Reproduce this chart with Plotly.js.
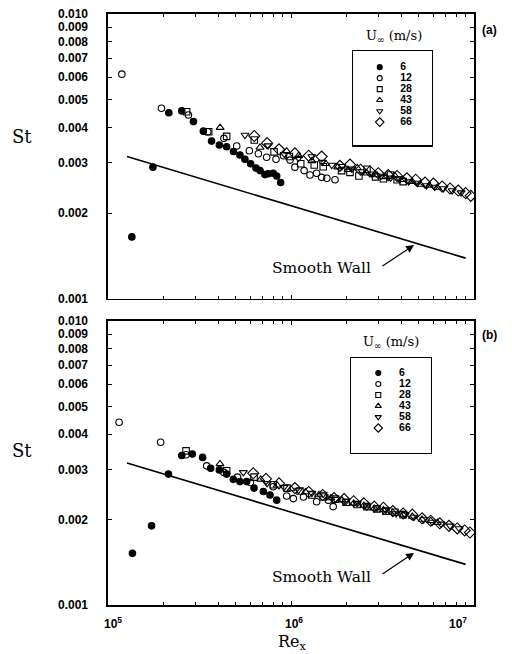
<!DOCTYPE html>
<html><head><meta charset="utf-8">
<script src="https://cdn.plot.ly/plotly-3.0.1.min.js"></script>
<style>html,body{margin:0;padding:0;background:#fff;} #chart{width:512px;height:654px;}</style>
</head><body><div id="chart"></div>
<script>
// ---------- data ----------
const speeds = ['6', '12', '28', '43', '58', '66'];
const xTickVals = [1e5, 1e6, 1e7];
const xTickText = ['10<sup>5</sup>', '10<sup>6</sup>', '10<sup>7</sup>'];
const yTickVals = [0.001, 0.002, 0.003, 0.004, 0.005, 0.006, 0.007, 0.008, 0.009, 0.010];
const yTickText = ['0.001', '0.002', '0.003', '0.004', '0.005', '0.006', '0.007', '0.008', '0.009', '0.010'];
const smoothRe = [1.27e5, 3e5, 1e6, 3e6, 9e6];
const smoothSt = [0.00316, 0.00268, 0.00212, 0.00172, 0.00139];

// panel (a)
const aRe6 = [1.35e5, 1.76e5, 2.15e5, 2.53e5, 2.93e5, 3.32e5, 3.68e5, 4.06e5, 4.45e5, 4.85e5, 5.26e5, 5.6e5, 6.02e5, 6.44e5, 6.77e5, 7.2e5, 7.5e5, 8.0e5, 8.35e5, 8.78e5];
const aSt6 = [0.00165, 0.0029, 0.0045, 0.00457, 0.00419, 0.00388, 0.00358, 0.00347, 0.00342, 0.00329, 0.0032, 0.00309, 0.00298, 0.00288, 0.00282, 0.00273, 0.00275, 0.00276, 0.0027, 0.00256];
const aRe12 = [1.19e5, 1.96e5, 2.75e5, 3.51e5, 4.30e5, 5.05e5, 5.92e5, 6.63e5, 7.36e5, 8.28e5, 9.1e5, 9.88e5, 1.05e6, 1.18e6, 1.27e6, 1.38e6, 1.47e6, 1.57e6, 1.74e6];
const aSt12 = [0.00615, 0.00467, 0.00442, 0.00386, 0.00366, 0.00344, 0.00331, 0.00323, 0.00314, 0.00309, 0.00318, 0.00307, 0.0029, 0.00282, 0.00272, 0.00276, 0.00267, 0.00265, 0.00262];
const aRe28 = [2.69e5, 3.55e5, 4.45e5, 6.3e5, 8.08e5, 9.8e5, 1.13e6, 1.34e6, 1.50e6, 1.89e6, 2.1e6, 2.35e6, 2.6e6, 2.9e6, 3.2e6, 3.5e6, 3.8e6, 4.1e6];
const aSt28 = [0.00454, 0.00386, 0.00372, 0.00361, 0.00328, 0.00316, 0.00298, 0.00295, 0.00291, 0.00282, 0.00278, 0.0027, 0.00285, 0.00268, 0.00264, 0.00272, 0.00262, 0.00258];
const aRe43 = [4.1e5, 6.77e5, 9.46e5, 1.1e6, 1.3e6, 1.55e6, 1.8e6, 2.05e6, 2.3e6, 2.6e6, 2.95e6, 3.3e6, 3.7e6, 4.1e6, 4.6e6, 5.1e6, 5.7e6, 6.3e6];
const aSt43 = [0.00399, 0.0034, 0.0033, 0.00318, 0.00305, 0.00298, 0.0029, 0.00284, 0.00288, 0.00276, 0.00272, 0.00268, 0.0027, 0.00262, 0.00258, 0.00252, 0.0025, 0.00246];
const aRe58 = [5.6e5, 7.5e5, 9.2e5, 1.1e6, 1.30e6, 1.48e6, 1.67e6, 1.9e6, 2.15e6, 2.45e6, 2.75e6, 3.1e6, 3.5e6, 3.9e6, 4.4e6, 4.9e6, 5.5e6, 6.1e6, 6.8e6, 7.6e6, 8.5e6];
const aSt58 = [0.00376, 0.00345, 0.00322, 0.00312, 0.00316, 0.00302, 0.00295, 0.00292, 0.00286, 0.0028, 0.00275, 0.0027, 0.00266, 0.00264, 0.00258, 0.00255, 0.0025, 0.00247, 0.00244, 0.0024, 0.00236];
const aRe66 = [6.3e5, 7.4e5, 8.6e5, 1.05e6, 1.25e6, 1.47e6, 1.85e6, 2.1e6, 2.4e6, 2.7e6, 3.0e6, 3.4e6, 3.8e6, 4.3e6, 4.8e6, 5.4e6, 6.0e6, 6.7e6, 7.4e6, 8.2e6, 9.0e6, 9.6e6];
const aSt66 = [0.00373, 0.00352, 0.00335, 0.00324, 0.00318, 0.00316, 0.00293, 0.00296, 0.00284, 0.0028, 0.00276, 0.00272, 0.0027, 0.00265, 0.00262, 0.00256, 0.00254, 0.00248, 0.00244, 0.0024, 0.00235, 0.0023];

// panel (b)
const bRe6 = [1.36e5, 1.73e5, 2.14e5, 2.53e5, 2.89e5, 3.29e5, 3.64e5, 4.06e5, 4.45e5, 4.84e5, 5.26e5, 5.73e5, 6.28e5, 7.06e5, 7.68e5, 8.35e5];
const bSt6 = [0.00152, 0.0019, 0.00289, 0.00336, 0.0034, 0.00331, 0.00303, 0.00299, 0.00289, 0.00277, 0.00272, 0.00272, 0.00258, 0.00251, 0.00244, 0.00234];
const bRe12 = [1.15e5, 1.94e5, 2.67e5, 3.46e5, 4.3e5, 5.1e5, 6.0e5, 8.0e5, 9.47e5, 1.03e6, 1.17e6, 1.38e6, 1.60e6, 1.70e6];
const bSt12 = [0.0044, 0.00374, 0.00338, 0.00309, 0.00293, 0.00282, 0.0027, 0.00261, 0.00242, 0.00237, 0.0024, 0.00231, 0.00234, 0.00222];
const bRe28 = [2.67e5, 4.45e5, 6.28e5, 8.0e5, 9.5e5, 1.12e6, 1.3e6, 1.5e6, 1.75e6, 2.0e6, 2.3e6, 2.6e6, 2.95e6, 3.3e6, 3.7e6, 4.1e6];
const bSt28 = [0.00349, 0.00297, 0.00282, 0.00265, 0.00258, 0.00252, 0.00244, 0.0024, 0.00236, 0.0023, 0.00226, 0.00222, 0.00218, 0.00214, 0.00212, 0.00208];
const bRe43 = [4.09e5, 6.83e5, 8.4e5, 1.0e6, 1.2e6, 1.42e6, 1.65e6, 1.9e6, 2.2e6, 2.5e6, 2.85e6, 3.2e6, 3.6e6, 4.1e6, 4.6e6, 5.2e6, 5.8e6, 6.3e6];
const bSt43 = [0.00314, 0.00277, 0.00264, 0.00256, 0.0025, 0.00244, 0.00238, 0.00234, 0.00228, 0.00224, 0.00219, 0.00216, 0.00212, 0.00208, 0.00205, 0.002, 0.00198, 0.00195];
const bRe58 = [5.49e5, 7.4e5, 9.16e5, 1.1e6, 1.3e6, 1.5e6, 1.75e6, 2.0e6, 2.3e6, 2.6e6, 2.95e6, 3.3e6, 3.75e6, 4.2e6, 4.7e6, 5.3e6, 5.9e6, 6.6e6, 7.4e6, 8.3e6];
const bSt58 = [0.00293, 0.00268, 0.0026, 0.00254, 0.00248, 0.00246, 0.00236, 0.00232, 0.00228, 0.00222, 0.0022, 0.00216, 0.0021, 0.00208, 0.00204, 0.002, 0.00196, 0.00193, 0.0019, 0.00186];
const bRe66 = [6.22e5, 7.3e5, 8.6e5, 1.05e6, 1.25e6, 1.49e6, 1.72e6, 1.95e6, 2.2e6, 2.5e6, 2.85e6, 3.2e6, 3.6e6, 4.1e6, 4.6e6, 5.2e6, 5.8e6, 6.5e6, 7.3e6, 8.1e6, 8.9e6, 9.5e6];
const bSt66 = [0.00291, 0.00278, 0.00268, 0.00258, 0.0025, 0.00244, 0.00238, 0.00236, 0.00232, 0.00228, 0.00222, 0.0022, 0.00214, 0.0021, 0.00208, 0.00202, 0.00198, 0.00194, 0.0019, 0.00186, 0.00183, 0.0018];

// ---------- styling / build ----------
const panelA = [[aRe6, aSt6], [aRe12, aSt12], [aRe28, aSt28], [aRe43, aSt43], [aRe58, aSt58], [aRe66, aSt66]];
const panelB = [[bRe6, bSt6], [bRe12, bSt12], [bRe28, bSt28], [bRe43, bSt43], [bRe58, bSt58], [bRe66, bSt66]];
const symbols = ['circle', 'circle-open', 'square-open', 'triangle-up-open', 'triangle-down-open', 'diamond-open'];
const sizes = [6.5, 6.5, 6.5, 7, 7, 8.5];
const legSizes = [5, 5, 5, 5.5, 5.5, 6.5];

const traces = [];
function addPanel(data, xa, ya) {
  data.forEach((d, i) => {
    traces.push({
      type: 'scatter', mode: 'markers', x: d[0], y: d[1], xaxis: xa, yaxis: ya,
      name: speeds[i] + ' m/s', showlegend: false, hoverinfo: 'skip',
      marker: {symbol: symbols[i], size: sizes[i], color: '#000', line: {color: '#000', width: 1.1}}
    });
  });
  traces.push({
    type: 'scatter', mode: 'lines', x: smoothRe, y: smoothSt, xaxis: xa, yaxis: ya,
    showlegend: false, hoverinfo: 'skip', line: {color: '#000', width: 1.6}
  });
}
addPanel(panelA, 'x', 'y');
addPanel(panelB, 'x2', 'y2');

function addLegend(xa, ya) {
  const idx = speeds.map((s, i) => i);
  speeds.forEach((s, i) => {
    traces.push({
      type: 'scatter', mode: 'markers', x: [0.34], y: [idx[i]], xaxis: xa, yaxis: ya,
      showlegend: false, hoverinfo: 'skip',
      marker: {symbol: symbols[i], size: legSizes[i], color: '#000', line: {color: '#000', width: 1.1}}
    });
  });
  traces.push({
    type: 'scatter', mode: 'text', x: speeds.map(() => 0.6), y: idx, text: speeds,
    textposition: 'middle right', xaxis: xa, yaxis: ya, showlegend: false, hoverinfo: 'skip',
    textfont: {family: 'Liberation Sans', size: 10.5, weight: 700, color: '#000'}
  });
}
addLegend('x3', 'y3');
addLegend('x4', 'y4');

const minorVals = [];
[1e5, 1e6].forEach(d => { for (let k = 2; k <= 9; k++) minorVals.push(k * d); });

const tickFont = {family: 'Liberation Sans', size: 12, weight: 700, color: '#000'};
function xAxis(anchor) {
  return {
    type: 'log', range: [5, 7], anchor: anchor, domain: [0, 1],
    showline: true, linecolor: '#000', linewidth: 1.6, mirror: 'ticks',
    ticks: 'inside', ticklen: 4, tickwidth: 1, tickcolor: '#000',
    tickmode: 'array', tickvals: xTickVals, showticklabels: false,
    showgrid: false, zeroline: false,
    minor: {tickmode: 'array', tickvals: minorVals, ticks: 'inside', ticklen: 3, tickwidth: 1, tickcolor: '#000', showgrid: false}
  };
}
function yAxis(anchor, domain) {
  return {
    type: 'log', range: [-3, -2], anchor: anchor, domain: domain,
    showline: true, linecolor: '#000', linewidth: 1.6, mirror: 'ticks',
    ticks: 'inside', ticklen: 4, tickwidth: 1, tickcolor: '#000',
    tickmode: 'array', tickvals: yTickVals, ticktext: yTickText,
    tickfont: tickFont, ticklabelstandoff: 16,
    showgrid: false, zeroline: false
  };
}
function boxAxisX(anchor, domain) {
  return {anchor: anchor, domain: domain, range: [0, 1], showline: true, mirror: true, linecolor: '#000', linewidth: 1.3,
    ticks: '', showticklabels: false, showgrid: false, zeroline: false, fixedrange: true};
}
function boxAxisY(anchor, domain, range) {
  return {anchor: anchor, domain: domain, range: range, showline: true, mirror: true, linecolor: '#000', linewidth: 1.3,
    ticks: '', showticklabels: false, showgrid: false, zeroline: false, fixedrange: true};
}

const serif = 'DejaVu Serif';
const annotations = [];
// axis titles
annotations.push({text: 'St', xref: 'paper', yref: 'paper', x: -0.235, y: 0.792, showarrow: false, xanchor: 'center', yanchor: 'middle', font: {family: serif, size: 18, color: '#000'}});
annotations.push({text: 'St', xref: 'paper', yref: 'paper', x: -0.235, y: 0.262, showarrow: false, xanchor: 'center', yanchor: 'middle', font: {family: serif, size: 18, color: '#000'}});
annotations.push({text: 'Re<sub>x</sub>', xref: 'paper', yref: 'paper', x: 0.503, y: -0.063, showarrow: false, xanchor: 'center', yanchor: 'middle', font: {family: serif, size: 16, color: '#000'}});
// x tick labels (bottom panel)
const xShift = [5, 3, -16];
xTickVals.forEach((v, i) => {
  annotations.push({text: xTickText[i], xref: 'x2', yref: 'paper', x: Math.log10(v), y: -0.030, showarrow: false,
    xanchor: 'center', yanchor: 'middle', xshift: xShift[i], font: tickFont});
});
// panel labels
annotations.push({text: '(a)', xref: 'paper', yref: 'paper', x: 1.041, y: 0.973, showarrow: false, xanchor: 'center', yanchor: 'middle', font: tickFont});
annotations.push({text: '(b)', xref: 'paper', yref: 'paper', x: 1.041, y: 0.457, showarrow: false, xanchor: 'center', yanchor: 'middle', font: tickFont});
// legend titles
annotations.push({text: 'U<sub>∞</sub> (m/s)', xref: 'paper', yref: 'paper', x: 0.781, y: 0.962, showarrow: false, xanchor: 'center', yanchor: 'middle', font: {family: serif, size: 13, color: '#000'}});
annotations.push({text: 'U<sub>∞</sub> (m/s)', xref: 'paper', yref: 'paper', x: 0.773, y: 0.444, showarrow: false, xanchor: 'center', yanchor: 'middle', font: {family: serif, size: 13, color: '#000'}});
// smooth wall labels + arrows
[[0.570, 0.609], [0.047, 0.088]].forEach(p => {
  annotations.push({text: 'Smooth Wall', xref: 'paper', yref: 'paper', x: 0.582, y: p[0], showarrow: false, xanchor: 'center', yanchor: 'middle', font: {family: serif, size: 15.5, color: '#000'}});
  annotations.push({text: '', xref: 'paper', yref: 'paper', x: 0.836, y: p[1], showarrow: true, ax: -33, ay: 22,
    arrowhead: 2, arrowsize: 1.3, arrowwidth: 1.2, arrowcolor: '#000', standoff: 0});
});

const layout = {
  width: 512, height: 654,
  margin: {l: 108, r: 38, t: 14, b: 49},
  paper_bgcolor: '#fff', plot_bgcolor: '#fff',
  showlegend: false,
  xaxis: xAxis('y'), yaxis: yAxis('x', [0.518, 1]),
  xaxis2: xAxis('y2'), yaxis2: yAxis('x2', [0, 0.4805]),
  xaxis3: boxAxisX('y3', [0.669, 0.885]), yaxis3: boxAxisY('x3', [0.778, 0.937], [7.1, -1.45]),
  xaxis4: boxAxisX('y4', [0.664, 0.883]), yaxis4: boxAxisY('x4', [0.257, 0.418], [7.28, -1.36]),
  annotations: annotations
};
Plotly.newPlot('chart', traces, layout, {staticPlot: true, displayModeBar: false});
</script>
</body></html>
